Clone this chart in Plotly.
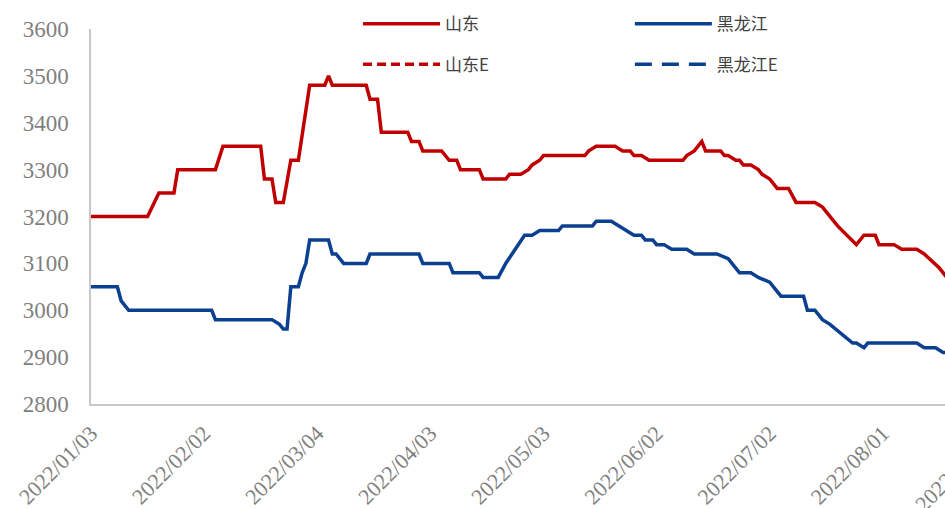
import plotly.graph_objects as go

# ---- data (vertices of the daily price lines) ----
sd_dates = ["2022-01-03","2022-01-18","2022-01-21","2022-01-25","2022-01-26","2022-02-05","2022-02-07",
            "2022-02-17","2022-02-18","2022-02-20","2022-02-21","2022-02-23","2022-02-25","2022-02-27",
            "2022-03-02","2022-03-06","2022-03-07","2022-03-08","2022-03-17","2022-03-18","2022-03-20",
            "2022-03-21","2022-03-28","2022-03-29","2022-03-31","2022-04-01","2022-04-06","2022-04-08",
            "2022-04-10","2022-04-11","2022-04-16","2022-04-17","2022-04-23","2022-04-24","2022-04-27",
            "2022-04-29","2022-04-30","2022-05-02","2022-05-03","2022-05-14","2022-05-15","2022-05-17",
            "2022-05-22","2022-05-24","2022-05-26","2022-05-27","2022-05-29","2022-05-31","2022-06-09",
            "2022-06-10","2022-06-12","2022-06-14","2022-06-15","2022-06-19","2022-06-20","2022-06-21",
            "2022-06-23","2022-06-24","2022-06-25","2022-06-27","2022-06-29","2022-06-30","2022-07-02",
            "2022-07-04","2022-07-07","2022-07-09","2022-07-14","2022-07-16","2022-07-20","2022-07-25",
            "2022-07-27","2022-07-30","2022-07-31","2022-08-04","2022-08-06","2022-08-10","2022-08-12",
            "2022-08-16","2022-08-18"]
sd_values = [3200,3200,3250,3250,3300,3300,3350,
             3350,3280,3280,3230,3230,3320,3320,
             3480,3480,3500,3480,3480,3450,3450,
             3380,3380,3360,3360,3340,3340,3320,
             3320,3300,3300,3280,3280,3290,3290,
             3300,3310,3320,3330,3330,3340,3350,
             3350,3340,3340,3330,3330,3320,3320,
             3330,3340,3360,3340,3340,3330,3330,
             3320,3320,3310,3310,3300,3290,3280,
             3260,3260,3230,3230,3220,3180,3140,
             3160,3160,3140,3140,3130,3130,3120,
             3090,3070]

hlj_dates = ["2022-01-03","2022-01-10","2022-01-11","2022-01-13","2022-02-04","2022-02-05","2022-02-20",
             "2022-02-21","2022-02-22","2022-02-23","2022-02-24","2022-02-25","2022-02-27","2022-02-28",
             "2022-03-01","2022-03-02","2022-03-07","2022-03-08","2022-03-09","2022-03-11","2022-03-17",
             "2022-03-18","2022-03-31","2022-04-01","2022-04-08","2022-04-09","2022-04-16","2022-04-17",
             "2022-04-21","2022-04-23","2022-04-28","2022-04-30","2022-05-02","2022-05-07","2022-05-08",
             "2022-05-16","2022-05-17","2022-05-21","2022-05-23","2022-05-25","2022-05-27","2022-05-29",
             "2022-05-30","2022-06-01","2022-06-02","2022-06-04","2022-06-06","2022-06-10","2022-06-12",
             "2022-06-18","2022-06-21","2022-06-22","2022-06-24","2022-06-27","2022-06-29","2022-07-02",
             "2022-07-05","2022-07-11","2022-07-12","2022-07-14","2022-07-16","2022-07-18","2022-07-21",
             "2022-07-24","2022-07-25","2022-07-27","2022-07-28","2022-08-10","2022-08-12","2022-08-15",
             "2022-08-17","2022-08-18"]
hlj_values = [3050,3050,3020,3000,3000,2980,2980,
              2975,2970,2960,2960,3050,3050,3080,
              3100,3150,3150,3120,3120,3100,3100,
              3120,3120,3100,3100,3080,3080,3070,
              3070,3100,3160,3160,3170,3170,3180,
              3180,3190,3190,3180,3170,3160,3160,
              3150,3150,3140,3140,3130,3130,3120,
              3120,3110,3100,3080,3080,3070,3060,
              3030,3030,3000,3000,2980,2970,2950,
              2930,2930,2920,2930,2930,2920,2920,
              2910,2910]

sd_e_dates, sd_e_values = [None], [None]
hlj_e_dates, hlj_e_values = [None], [None]

y_ticks = [2800, 2900, 3000, 3100, 3200, 3300, 3400, 3500, 3600]

RED = "#C00000"
BLUE = "#0B3F8F"
GRAY = "#7f7f7f"

fig = go.Figure()
fig.add_trace(go.Scatter(x=sd_dates, y=sd_values, name="山东", mode="lines",
                         line=dict(color=RED, width=3.5), legend="legend"))
fig.add_trace(go.Scatter(x=hlj_dates, y=hlj_values, name="黑龙江", mode="lines",
                         line=dict(color=BLUE, width=3.5), legend="legend2"))
fig.add_trace(go.Scatter(x=sd_e_dates, y=sd_e_values, name="山东E", mode="lines",
                         line=dict(color=RED, width=3.5, dash="9px,5px"), legend="legend3"))
fig.add_trace(go.Scatter(x=hlj_e_dates, y=hlj_e_values, name="黑龙江E", mode="lines",
                         line=dict(color=BLUE, width=3.5, dash="17px,10px"), legend="legend4"))

leg_font = dict(family="Noto Sans CJK SC", size=17, color="#404040")
def leg(x, y):
    return dict(x=x, y=y, xanchor="left", yanchor="middle", orientation="v",
                font=leg_font, itemwidth=77, bgcolor="rgba(0,0,0,0)", borderwidth=0)

fig.update_layout(
    width=945, height=508,
    margin=dict(l=91, r=0, t=29, b=104, autoexpand=False),
    paper_bgcolor="white", plot_bgcolor="white",
    showlegend=True,
    legend=leg(0.3127, 1.013),
    legend2=leg(0.631, 1.013),
    legend3=leg(0.3127, 0.905),
    legend4=leg(0.631, 0.905),
    xaxis=dict(
        type="date", automargin=False,
        range=["2022-01-03", "2022-08-17 12:00"],
        tick0="2022-01-03", dtick=30 * 86400000,
        tickformat="%Y/%m/%d", tickangle=-45,
        showgrid=False, zeroline=False,
        showline=True, linecolor="#c8c8c8", linewidth=1.5,
        ticks="", ticklabelstandoff=6,
        tickfont=dict(family="Liberation Serif", size=22, color=GRAY),
    ),
    yaxis=dict(
        range=[2800, 3600], tickvals=y_ticks, automargin=False,
        showgrid=False, zeroline=False,
        showline=True, linecolor="#c8c8c8", linewidth=1.5,
        ticks="", ticklabelstandoff=16,
        tickfont=dict(family="Liberation Serif", size=23, color=GRAY),
    ),
)

# partially visible next tick label at the right edge (2022/08/31)
fig.add_annotation(text="2022/08/31", xref="paper", yref="paper", x=1.0656, y=-0.056,
                   xanchor="right", yanchor="top", textangle=-45, showarrow=False,
                   font=dict(family="Liberation Serif", size=22, color=GRAY))

# remove the default page margin so the 945x508 figure fills the window exactly
post = ("document.body.style.margin='0px';"
        "document.body.style.overflow='hidden';"
        "var gd=document.getElementById('{plot_id}');"
        "Plotly.relayout(gd,{width:945,height:508});")
fig.write_html("out.html", post_script=post, config={"displayModeBar": False})
